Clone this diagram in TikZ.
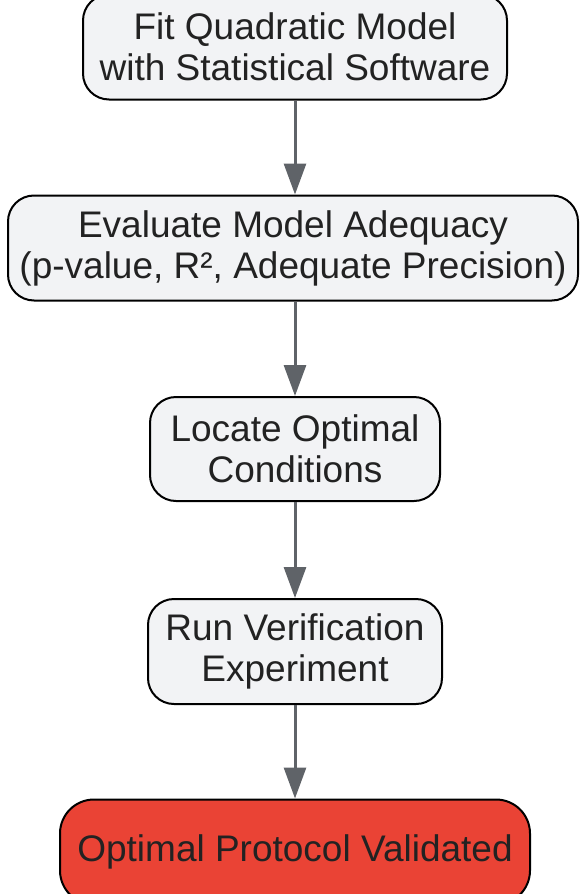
\documentclass[tikz,border=0pt]{standalone}
\usepackage{fontspec}
\setmainfont{Liberation Sans}
\usetikzlibrary{arrows.meta}
\definecolor{boxgrey}{HTML}{F2F3F5}
\definecolor{arrowgrey}{HTML}{5F6368}
\definecolor{donered}{HTML}{EA4335}
\definecolor{textdark}{HTML}{222222}
\begin{document}
\begin{tikzpicture}[x=1pt, y=-1pt,
    stepbox/.style={draw=black, line width=2pt, fill=boxgrey, rounded corners=26pt,
        align=center, inner sep=0pt, minimum height=105pt, text=textdark,
        font=\fontsize{37}{41}\selectfont},
    endbox/.style={stepbox, fill=donered, rounded corners=34pt},
    flow/.style={draw=arrowgrey, line width=3pt, -{Triangle[length=31pt, width=22pt]}}]
    \useasboundingbox (0, 0) rectangle (580, 894);
    \node [stepbox, minimum width=424pt] (fit) at (295, 47) {Fit Quadratic Model\\with Statistical Software};
    \node [stepbox, minimum width=570pt] (evaluate) at (293, 248) {Evaluate Model Adequacy\\(p-value, R², Adequate Precision)};
    \node [stepbox, minimum width=290pt, minimum height=104pt] (locate) at (295, 449) {Locate Optimal\\Conditions};
    \node [stepbox, minimum width=294pt] (verify) at (295, 651.5) {Run Verification\\Experiment};
    \node [endbox, minimum width=470pt] (validated) at (295, 852) {Optimal Protocol Validated};
    \draw [flow] (fit) -- (fit.south |- evaluate.north);
    \draw [flow] (locate.north |- evaluate.south) -- (locate);
    \draw [flow] (locate) -- (verify);
    \draw [flow] (verify) -- (validated);
\end{tikzpicture}
\end{document}
